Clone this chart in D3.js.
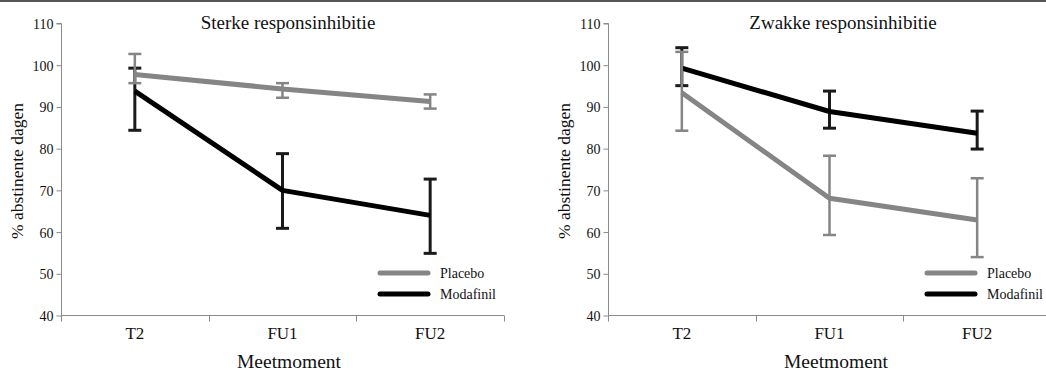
<!DOCTYPE html>
<html lang="nl">
<head>
<meta charset="utf-8" />
<title>Abstinente dagen</title>
<style>
html,body{margin:0;background:#fff}
svg{display:block}
svg text{font-family:"Liberation Serif","DejaVu Serif",serif;fill:#111}
.axis path,.axis line{stroke:#8a8a8a}
.axis .tick text{font-size:14px}
</style>
<script src="https://cdn.jsdelivr.net/npm/d3@7/dist/d3.min.js"></script>
</head>
<body>
<div id="chart"></div>
<script>
/* ---------------------------- data ------------------------------------ */
const categories = ["T2", "FU1", "FU2"];
const yTicks     = [40, 50, 60, 70, 80, 90, 100, 110];
const seriesNames = ["Placebo", "Modafinil"];

// Sterke responsinhibitie
const sterkePlacebo    = [97.8, 94.3, 91.3];
const sterkePlaceboLo  = [95.7, 92.2, 89.6];
const sterkePlaceboHi  = [102.7, 95.7, 93.0];
const sterkeModaf      = [93.8, 70.0, 64.0];
const sterkeModafLo    = [84.4, 60.9, 54.9];
const sterkeModafHi    = [99.3, 78.8, 72.7];

// Zwakke responsinhibitie
const zwakkePlacebo    = [93.4, 68.1, 62.9];
const zwakkePlaceboLo  = [84.3, 59.3, 54.0];
const zwakkePlaceboHi  = [103.2, 78.3, 72.9];
const zwakkeModaf      = [99.3, 88.9, 83.7];
const zwakkeModafLo    = [95.1, 84.9, 79.9];
const zwakkeModafHi    = [104.2, 93.8, 89.0];

/* --------------------------- layout ----------------------------------- */
const width = 1046, height = 372;
const colors = {Placebo: "#858585", Modafinil: "#000"};
const capColors = {Placebo: "#858585", Modafinil: "#1a1a1a"};

// modafinil first so the placebo marks sit on top, as in the original
const panels = [
  {title: "Sterke responsinhibitie", x0: 61, titleX: 288,
   series: [
     {name: "Modafinil", v: sterkeModaf,   lo: sterkeModafLo,   hi: sterkeModafHi},
     {name: "Placebo",   v: sterkePlacebo, lo: sterkePlaceboLo, hi: sterkePlaceboHi}]},
  {title: "Zwakke responsinhibitie", x0: 608, titleX: 843,
   series: [
     {name: "Modafinil", v: zwakkeModaf,   lo: zwakkeModafLo,   hi: zwakkeModafHi},
     {name: "Placebo",   v: zwakkePlacebo, lo: zwakkePlaceboLo, hi: zwakkePlaceboHi}]}
];

const svg = d3.select("#chart").append("svg")
  .attr("width", width).attr("height", height);

// top rule
svg.append("rect").attr("x", 0).attr("y", 0).attr("width", width).attr("height", 2)
   .attr("fill", "#555");

const y = d3.scaleLinear().domain([40, 110]).range([315.5, 23.5]);

panels.forEach(p => {
  const g = svg.append("g");
  const x = d3.scaleBand().domain(categories).range([p.x0, p.x0 + 443]);
  const cx = c => x(c) + x.bandwidth() / 2;

  // axes
  const ya = g.append("g").attr("class", "axis")
    .attr("transform", `translate(${p.x0 + 0.5},0)`)
    .call(d3.axisLeft(y).tickValues(yTicks).tickSize(5).tickSizeOuter(0).tickPadding(3));
  ya.select(".domain").attr("d", `M-5,${y(110)}H0V${y(40)}`);
  ya.selectAll(".tick text").attr("dy", "0.36em");

  const xa = g.append("g").attr("class", "axis")
    .attr("transform", `translate(0,${y(40)})`);
  xa.append("line").attr("x1", p.x0).attr("x2", p.x0 + 443).attr("stroke", "#8a8a8a");
  [p.x0, ...categories.slice(1).map(c => x(c)), p.x0 + 443].forEach(t => {
    xa.append("line").attr("x1", Math.round(t) + 0.5).attr("x2", Math.round(t) + 0.5)
      .attr("y1", 0).attr("y2", 6).attr("stroke", "#8a8a8a");
  });
  categories.forEach(c => {
    xa.append("text").attr("x", cx(c)).attr("y", 23).attr("text-anchor", "middle")
      .style("font-size", "17px").text(c);
  });

  // titles
  g.append("text").attr("x", p.titleX).attr("y", 29).attr("text-anchor", "middle")
    .style("font-size", "19px").text(p.title);
  g.append("text").attr("x", p.x0 + 228).attr("y", 368).attr("text-anchor", "middle")
    .style("font-size", "19.5px").text("Meetmoment");
  g.append("text").attr("transform", `translate(${p.x0 - 38},${171}) rotate(-90)`)
    .attr("text-anchor", "middle").style("font-size", "17.5px")
    .text("% abstinente dagen");

  // series
  const line = d3.line().x((d, i) => cx(categories[i])).y(d => y(d));
  p.series.forEach(s => {
    const sg = g.append("g");
    const sw = s.name === "Placebo" ? 2.5 : 3;
    categories.forEach((c, i) => {
      const xc = cx(c);
      sg.append("line").attr("x1", xc).attr("x2", xc)
        .attr("y1", y(s.lo[i])).attr("y2", y(s.hi[i]))
        .attr("stroke", capColors[s.name]).attr("stroke-width", sw);
      [s.lo[i], s.hi[i]].forEach(v => {
        sg.append("line").attr("x1", xc - 6.5).attr("x2", xc + 6.5)
          .attr("y1", y(v)).attr("y2", y(v))
          .attr("stroke", capColors[s.name]).attr("stroke-width", sw);
      });
    });
    sg.append("path").datum(s.v).attr("d", line).attr("fill", "none")
      .attr("stroke", colors[s.name]).attr("stroke-width", 5)
      .attr("stroke-linejoin", "round");
  });

  // legend
  const lx = p.x0 + 319;
  seriesNames.forEach((n, i) => {
    const ly = 273 + i * 21;
    g.append("line").attr("x1", lx).attr("x2", lx + 48).attr("y1", ly).attr("y2", ly)
      .attr("stroke", colors[n]).attr("stroke-width", 5).attr("stroke-linecap", "round");
    g.append("text").attr("x", lx + 60).attr("y", ly + 5).style("font-size", "14px")
      .text(n);
  });
});
</script>
</body>
</html>
